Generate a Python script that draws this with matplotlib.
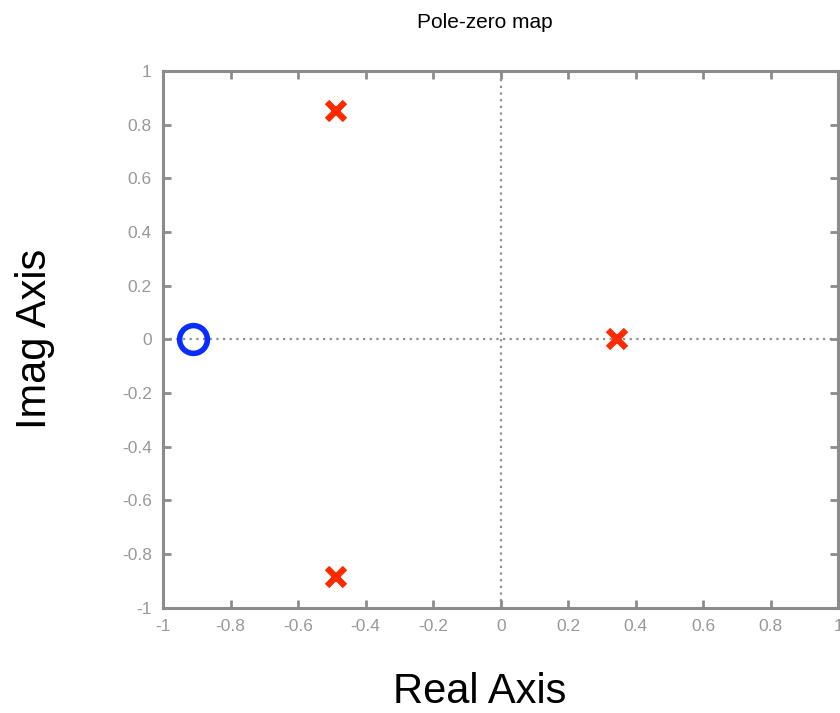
import matplotlib.pyplot as plt

plt.rcParams['font.family'] = ['Liberation Sans', 'DejaVu Sans']

# poles (x) and zeros (o)
pole_re = [-0.488, -0.488, 0.344]
pole_im = [0.85, -0.885, 0.0]
zero_re = [-0.911]
zero_im = [0.0]

ticks = [-1, -0.8, -0.6, -0.4, -0.2, 0, 0.2, 0.4, 0.6, 0.8, 1]
tick_labels = ['-1', '-0.8', '-0.6', '-0.4', '-0.2', '0', '0.2', '0.4', '0.6', '0.8', '1']

grey = '#8c8c8c'

fig = plt.figure(figsize=(8.4, 7.13), dpi=100)
ax = fig.add_axes([0.194, 0.1477, 0.8042, 0.7527])

# dotted axes through origin
ax.axhline(0, color='#909090', linestyle=(0, (1, 2)), linewidth=1.6, zorder=1)
ax.axvline(0, color='#909090', linestyle=(0, (1, 2)), linewidth=1.6, zorder=1)

ax.plot(pole_re, pole_im, linestyle='none', marker='x', markersize=13,
        markeredgewidth=4.5, color='#ff2a00', zorder=3)
ax.plot(zero_re, zero_im, linestyle='none', marker='o', markersize=20,
        markeredgewidth=4, markerfacecolor='none', markeredgecolor='#0a2cff', zorder=3)

ax.set_xlim(-1, 1)
ax.set_ylim(-1, 1)
ax.set_xticks(ticks)
ax.set_xticklabels(tick_labels)
ax.set_yticks(ticks)
ax.set_yticklabels(tick_labels)

for s in ax.spines.values():
    s.set_color(grey)
    s.set_linewidth(2.2)

ax.tick_params(direction='in', length=6, width=2, color=grey, labelcolor='#999999',
               labelsize=12.5, top=True, right=True, pad=8)

ax.set_xlabel('Real Axis', fontsize=30, va='center')
ax.xaxis.set_label_coords(0.469, -0.157)
ax.set_ylabel('Imag Axis', fontsize=30, va='center')
ax.yaxis.set_label_coords(-0.1895, 0.5)

fig.text(0.5775, 0.969, 'Pole-zero map', fontsize=15, ha='center', va='center')

fig.savefig('out.png', dpi=100)
